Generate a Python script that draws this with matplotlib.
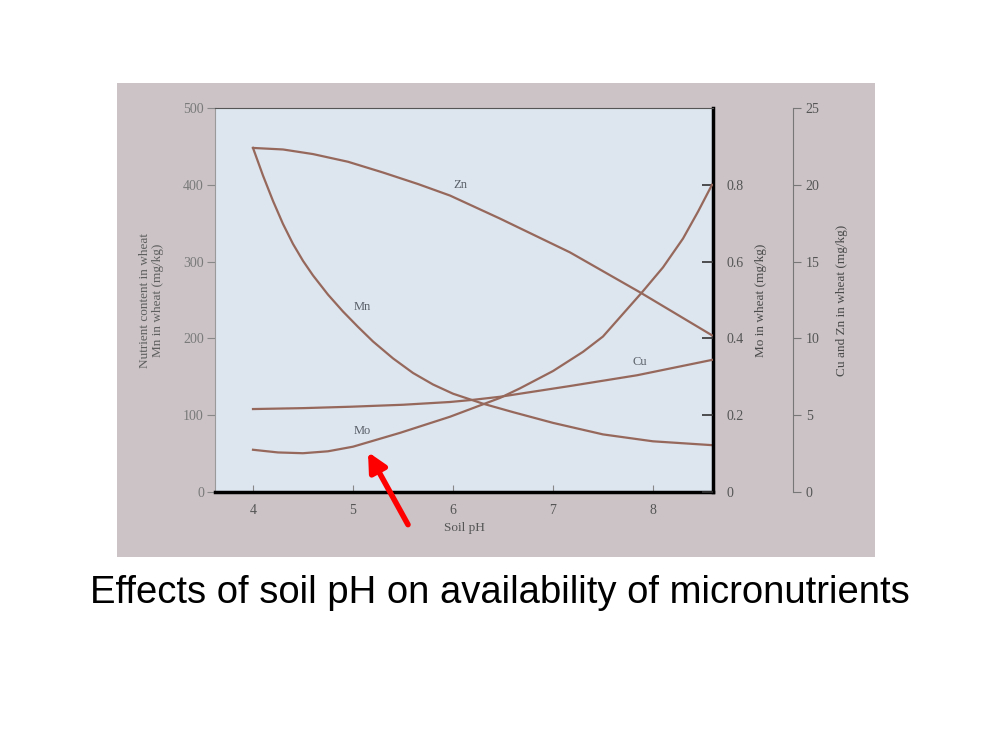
import matplotlib.pyplot as plt
from matplotlib.patches import Rectangle

# values (pH vs content)
zn_ph = [4.0, 4.3, 4.6, 4.95, 5.3, 5.65, 5.97, 6.47, 7.17, 7.87, 8.59]
zn_val = [22.4, 22.3, 22.0, 21.5, 20.8, 20.05, 19.3, 17.8, 15.6, 13.0, 10.2]   # mg/kg, right-hand axis

mn_ph = [4.0, 4.1, 4.2, 4.3, 4.4, 4.5, 4.6, 4.75, 4.9, 5.05, 5.2, 5.4, 5.6, 5.8,
         6.0, 6.3, 6.6, 7.0, 7.5, 8.0, 8.59]
mn_val = [448, 412, 379, 349, 323, 301, 282, 257, 235, 215, 196, 174, 155, 140,
          128, 115, 104, 90, 75, 66, 61]                                        # mg/kg, left axis

cu_ph = [4.0, 4.5, 4.97, 5.5, 5.97, 6.2, 6.47, 7.17, 7.84, 8.59]
cu_val = [5.4, 5.46, 5.55, 5.68, 5.86, 6.0, 6.2, 6.9, 7.6, 8.6]               # mg/kg, right-hand axis

mo_ph = [4.0, 4.25, 4.5, 4.75, 5.0, 5.47, 5.97, 6.47, 6.67, 7.0, 7.3, 7.5, 7.89,
         8.1, 8.3, 8.45, 8.59]
mo_val = [0.110, 0.103, 0.101, 0.106, 0.118, 0.154, 0.196, 0.245, 0.27, 0.315,
          0.365, 0.405, 0.52, 0.585, 0.66, 0.73, 0.80]                         # mg/kg, Mo axis

ph_ticks = [4, 5, 6, 7, 8]
left_ticks = [0, 100, 200, 300, 400, 500]
mo_ticks = [0, 0.2, 0.4, 0.6, 0.8]
cuzn_ticks = [0, 5, 10, 15, 20, 25]

line_col = '#96685c'
txt_col = '#555555'
font = 'Liberation Serif'

fig = plt.figure(figsize=(10, 7.5), dpi=100)
fig.patch.set_facecolor('white')

# the photographed page
fig.patches.append(Rectangle((0.117, 1 - 557 / 750), 0.758, 474 / 750,
                             transform=fig.transFigure, facecolor='#cbc3c6',
                             edgecolor='none', zorder=-5))

ax = fig.add_axes([0.215, 0.344, 0.498, 0.512])
ax.set_facecolor('#dde5ee')
ax.set_xlim(3.62, 8.6)
ax.set_ylim(0, 500)

ax.plot(mn_ph, mn_val, color=line_col, lw=1.6, solid_joinstyle='round')

ax.set_xticks(ph_ticks)
ax.set_yticks(left_ticks)
ax.tick_params(axis='x', direction='in', length=5, color='#888888',
               labelcolor=txt_col, labelsize=10, pad=9)
ax.tick_params(axis='y', direction='out', length=6, color='#888888',
               labelcolor='#7a7a7a', labelsize=10, pad=2)
for lab in ax.get_xticklabels() + ax.get_yticklabels():
    lab.set_family(font)

ax.spines['left'].set_color('#9a9a9a')
ax.spines['top'].set_color('#555555')
ax.spines['bottom'].set_linewidth(2.5)
ax.spines['bottom'].set_color('black')
ax.spines['right'].set_linewidth(2.5)
ax.spines['right'].set_color('black')

ax.set_xlabel('Soil pH', family=font, fontsize=9.5, color=txt_col, labelpad=3)
ax.set_ylabel('Nutrient content in wheat\nMn in wheat (mg/kg)', family=font,
              fontsize=9.5, color='#5f5f5f', labelpad=14, linespacing=1.1)

# Mo axis on the plot's right edge
ax2 = ax.twinx()
ax2.set_ylim(0, 1.0)
ax2.plot(mo_ph, mo_val, color=line_col, lw=1.6, solid_joinstyle='round')
ax2.set_yticks(mo_ticks)
ax2.set_yticklabels(['0', '0.2', '0.4', '0.6', '0.8'], family=font)
ax2.tick_params(axis='y', direction='in', length=8, width=1.2, color='#333333',
                labelcolor=txt_col, labelsize=10, pad=10)
for s in ax2.spines.values():
    s.set_visible(False)
ax2.set_ylabel('Mo in wheat (mg/kg)', family=font, fontsize=9.5,
               color='#4a4a4a', labelpad=8)

# Cu and Zn axis, detached to the right
ax3 = ax.twinx()
ax3.set_ylim(0, 25)
ax3.plot(zn_ph, zn_val, color=line_col, lw=1.6, solid_joinstyle='round')
ax3.plot(cu_ph, cu_val, color=line_col, lw=1.6, solid_joinstyle='round')
for s in ['top', 'bottom', 'left']:
    ax3.spines[s].set_visible(False)
ax3.spines['right'].set_position(('axes', 1.161))
ax3.spines['right'].set_color('#777777')
ax3.set_yticks(cuzn_ticks)
ax3.set_yticklabels([str(t) for t in cuzn_ticks], family=font)
ax3.tick_params(axis='y', direction='out', length=6, color='#777777',
                labelcolor=txt_col, labelsize=10, pad=3)
ax3.set_ylabel('Cu and Zn in wheat (mg/kg)', family=font, fontsize=9.5,
               color='#4a4a4a', labelpad=12)

# curve names
for name, x, y in [('Zn', 6.07, 400), ('Mn', 5.09, 241), ('Cu', 7.87, 169), ('Mo', 5.09, 80)]:
    ax.text(x, y, name, family=font, fontsize=9, color='#5a6068',
            ha='center', va='center')

# red pointer to the Mo curve
ax3.annotate('', xy=(5.15, 0.104), xycoords=ax2.transData,
             xytext=(5.55, -0.085), textcoords=ax2.transData,
             arrowprops=dict(arrowstyle='-|>', color='#ff0000', lw=4,
                             mutation_scale=28, shrinkA=0, shrinkB=0),
             annotation_clip=False)

fig.text(0.5, 1 - 593 / 750, 'Effects of soil pH on availability of micronutrients',
         ha='center', va='center', fontsize=27.5, family='Liberation Sans', color='black')

fig.savefig('out.png', dpi=100)
